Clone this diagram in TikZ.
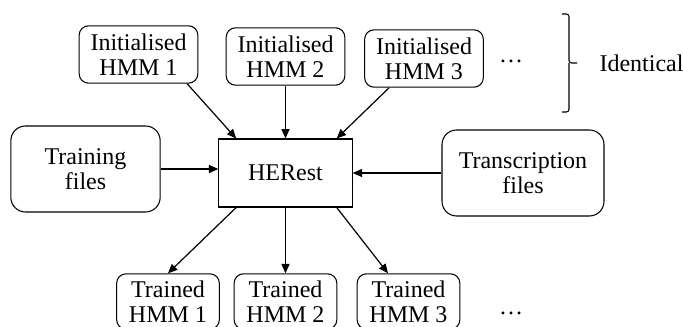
\documentclass[tikz,border=0pt]{standalone}
\usepackage{fontspec}
\setmainfont{Liberation Serif}
\usepackage{tikz}
\usetikzlibrary{positioning,calc,arrows.meta}

\tikzset{
  hmmbox/.style={draw, rounded corners=7pt, line width=0.8pt, align=center,
    minimum width=89pt, minimum height=43pt, inner sep=0pt},
  trainedbox/.style={hmmbox, minimum width=77pt, minimum height=41.5pt},
  filebox/.style={draw, rounded corners=11pt, line width=0.8pt, align=center,
    minimum height=64.5pt, inner sep=0pt},
  toolbox/.style={draw, line width=0.8pt, minimum width=100pt, minimum height=51pt},
  flow/.style={-{Triangle[length=7pt,width=6pt]}, line width=0.9pt}
}

\begin{document}
\begin{tikzpicture}[x=0.75pt,y=-0.75pt,font=\fontsize{18}{18.5}\selectfont]
  \useasboundingbox (0,0) rectangle (683,327);

  % initialised models
  \foreach \i/\x/\y in {1/138.5/54.5,2/285.5/56.5,3/424/58.5} {
    \node[hmmbox] (init\i) at (\x,\y) {Initialised\\HMM \i};
  }
  \node (idots) at (511,61) {\ldots};

  % brace
  \coordinate (btop) at (562,14);
  \coordinate (bbot) at (562,112);
  \draw[line width=0.8pt, rounded corners=2pt]
    (btop) -- (569,14) -- (569,63) -- (577,63);
  \draw[line width=0.8pt, rounded corners=2pt]
    (bbot) -- (569,112) -- (569,63);
  \node (ident) at (641.5,63) {Identical};

  % centre row
  \node[filebox, minimum width=112pt] (train) at (85.5,169) {Training\\files};
  \node[toolbox] (herest) at (285.5,173) {HERest};
  \node[filebox, minimum width=121.5pt] (trans) at (523,173) {Transcription\\files};

  % trained models
  \foreach \i/\x in {1/168,2/285.5,3/408.5} {
    \node[trainedbox] (trained\i) at (\x,301.5) {Trained\\HMM \i};
  }
  \node (tdots) at (511,313) {\ldots};

  % arrows
  \draw[flow] (init1.-31.5) -- (herest.145);
  \draw[flow] (init2.south) -- (herest.north);
  \draw[flow] (init3.220.9) -- (herest.34);
  \draw[flow] (train.east) -- (train.east -| herest.west);
  \draw[flow] (trans.west) -- (herest.east);
  \draw[flow] (herest.215.6) -- (trained1.north);
  \draw[flow] (herest.south) -- (trained2.north);
  \draw[flow] (herest.-34) -- (trained3.126.1);
\end{tikzpicture}
\end{document}
